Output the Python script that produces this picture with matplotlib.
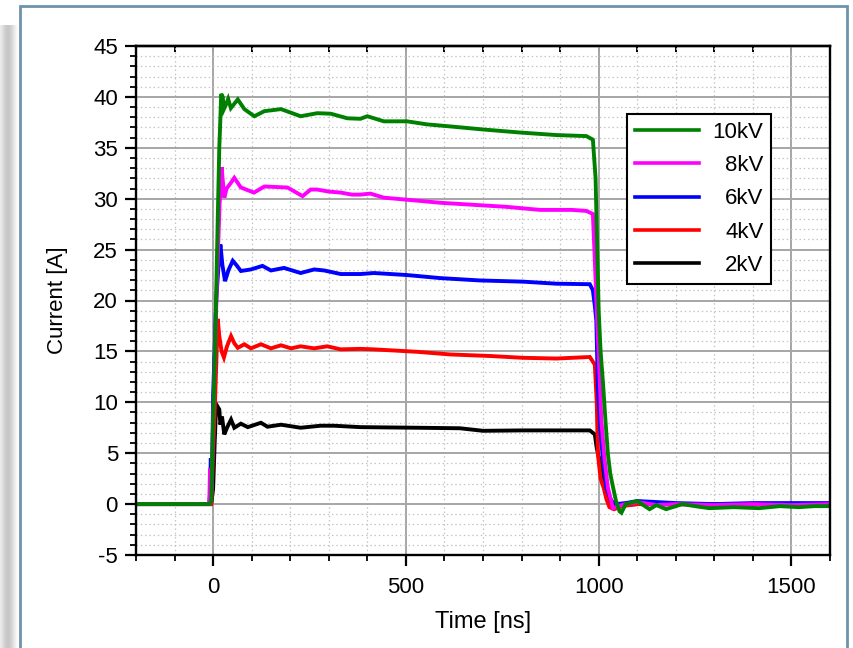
import matplotlib
matplotlib.use('Agg')
import matplotlib.pyplot as plt
import numpy as np
from matplotlib.ticker import MultipleLocator
from matplotlib.patches import Rectangle

plt.rcParams['font.family'] = ['Liberation Sans', 'DejaVu Sans']
plt.rcParams['axes.unicode_minus'] = False

# ---------------- data ----------------
labels = ['10kV', '8kV', '6kV', '4kV', '2kV']
colors = ['#008000', '#ff00ff', '#0000ff', '#ff0000', '#000000']

t_10 = [-200, -100, -10, -5, 0, 5, 12, 16, 18, 21, 25, 28, 34, 39, 46, 64, 81, 107, 133, 176,
        227, 270, 305, 348, 382, 400, 443, 503, 555, 615, 700, 796, 891, 968, 985, 992, 997, 1000,
        1005, 1011, 1018, 1024, 1030, 1037, 1045, 1054, 1059, 1070, 1100, 1132, 1150, 1175, 1217,
        1250, 1287, 1350, 1416, 1470, 1519, 1560, 1600]
I_10 = [0, 0, 0, 0.3, 8, 15, 28, 35, 37, 40.3, 40.0, 38.8, 39.3, 39.8, 38.9, 39.75, 38.8, 38.1, 38.6, 38.8,
        38.1, 38.4, 38.35, 37.9, 37.85, 38.1, 37.6, 37.6, 37.3, 37.1, 36.8, 36.5, 36.25, 36.15, 35.8, 32, 24, 19,
        15, 12, 8, 4.9, 3, 1.7, 0.3, -0.7, -0.85, 0.0, 0.3, -0.5, -0.1, -0.5, 0.0,
        -0.2, -0.4, -0.3, -0.4, -0.2, -0.3, -0.2, -0.2]

t_8 = [-200, -100, -10, -8, -5, 0, 10, 17, 20, 22, 29, 35, 45, 55, 72, 106, 133, 193, 232, 253,
       270, 300, 331, 360, 382, 408, 443, 503, 589, 675, 761, 848, 930, 968, 985, 990, 995, 1000,
       1007, 1015, 1024, 1037, 1050, 1070, 1100, 1150, 1200, 1300, 1400, 1500, 1600]
I_8 = [0, 0, 0, 3.5, 0.5, 8, 22, 29.6, 31.0, 33.1, 30.1, 31.0, 31.5, 32.05, 31.1, 30.6, 31.2, 31.1, 30.25, 30.9,
       30.9, 30.7, 30.6, 30.4, 30.4, 30.5, 30.1, 29.9, 29.6, 29.4, 29.2, 28.9, 28.9, 28.8, 28.5, 24, 19, 14.7,
       8.2, 4.5, 1.6, -0.4, -0.2, 0.0, 0.2, -0.1, 0.0, -0.1, 0.0, -0.1, 0.0]

t_6 = [-200, -150, -100, -10, -8, -6, -3, 0, 8, 15, 19, 24, 31, 40, 51, 60, 72, 98, 128, 150,
       184, 227, 262, 288, 331, 382, 417, 503, 589, 692, 804, 891, 977, 985, 990, 994, 998, 1005,
       1010, 1020, 1033, 1045, 1070, 1100, 1200, 1300, 1400, 1500, 1600]
I_6 = [0, 0, 0, 0, 1.0, 4.5, 2, 10.6, 20, 24, 25.5, 23.5, 21.9, 23.0, 23.9, 23.5, 22.9, 23.05, 23.4, 22.95,
       23.2, 22.7, 23.05, 22.95, 22.6, 22.6, 22.7, 22.5, 22.2, 21.97, 21.85, 21.65, 21.6, 21.0, 19.5, 18, 11.4, 7,
       4.9, 1.6, 0.3, 0.0, 0.1, 0.3, 0.1, 0.0, 0.1, 0.1, 0.1]

t_4 = [-200, -100, -5, 0, 5, 12, 16, 22, 28, 36, 46.5, 55, 64, 81, 98, 124, 150, 176, 202, 227,
       262, 296, 331, 382, 417, 529, 615, 718, 804, 891, 977, 990, 995, 998, 1005, 1013, 1020, 1028,
       1040, 1060, 1100, 1200, 1300, 1400, 1500, 1600]
I_4 = [0, 0, 0, 5, 10.1, 18.2, 16.5, 15.0, 14.4, 15.5, 16.5, 15.8, 15.35, 15.7, 15.3, 15.7, 15.3, 15.6, 15.3, 15.5,
       15.3, 15.5, 15.2, 15.25, 15.2, 14.96, 14.7, 14.55, 14.37, 14.3, 14.45, 13.7, 10, 4.9, 2.5, 1.6, 0.5, -0.3,
       -0.5, -0.2, 0.0, 0.0, -0.1, 0.0, 0.0, 0.0]

t_2 = [-200, -100, -5, 0, 4, 8, 16, 19, 23, 29, 36, 46.5, 55, 72, 90, 124, 141, 176, 227, 279,
       313, 382, 529, 640, 700, 804, 977, 990, 995, 1003, 1011, 1018, 1025, 1040, 1060, 1100, 1200, 1300,
       1400, 1500, 1600]
I_2 = [0, 0, 0, 1.5, 6, 9.8, 9.3, 7.8, 8.6, 6.85, 7.5, 8.3, 7.5, 7.9, 7.56, 7.99, 7.6, 7.8, 7.5, 7.7,
       7.7, 7.56, 7.5, 7.45, 7.2, 7.24, 7.24, 6.85, 5.5, 4.2, 2.3, 1.2, 0.3, 0.0, -0.1, 0.0, 0.0, 0.0,
       0.0, 0.0, 0.0]

x_ticks = [0, 500, 1000, 1500]
y_ticks = [-5, 0, 5, 10, 15, 20, 25, 30, 35, 40, 45]

series_t = [t_10, t_8, t_6, t_4, t_2]
series_I = [I_10, I_8, I_6, I_4, I_2]

# ---------------- figure ----------------
W, H = 854, 648
fig = plt.figure(figsize=(W / 100, H / 100), dpi=100)
fig.patch.set_facecolor('white')

# window-like frame and left shadow
shadow = fig.add_axes([0, 0, 19 / W, 1 - 25 / H])
grad = np.array([[0.92, 0.88, 0.84, 0.80, 0.78, 0.78, 0.80, 0.84, 0.88, 0.93, 0.97, 1.0]])
shadow.imshow(grad, cmap='gray', vmin=0, vmax=1, aspect='auto', interpolation='bicubic')
shadow.set_axis_off()
fig.add_artist(Rectangle((20 / W, -0.05), (847 - 20) / W, 1.05 - 6 / H, transform=fig.transFigure,
                         fill=False, edgecolor='#6d93ad', linewidth=2.0))

ax = fig.add_axes([136 / W, 1 - 555 / H, 694 / W, 509 / H])

handles = {}
for t, I, c, lab in reversed(list(zip(series_t, series_I, colors, labels))):
    h, = ax.plot(t, I, color=c, lw=2.8, solid_joinstyle='miter', label=lab)
    handles[lab] = h

ax.set_xlim(-200, 1600)
ax.set_ylim(-5, 45)
ax.set_xticks(x_ticks)
ax.set_yticks(y_ticks)
ax.xaxis.set_minor_locator(MultipleLocator(100))
ax.yaxis.set_minor_locator(MultipleLocator(1))

ax.set_axisbelow(True)
ax.grid(which='major', color='#a6a6a6', lw=1.4, ls='-')
ax.grid(which='minor', color='#c4c4c4', lw=0.9, ls=(0, (1.2, 2.2)))

for s in ax.spines.values():
    s.set_linewidth(1.7)
    s.set_color('black')

ax.tick_params(which='major', direction='out', length=8, width=1.6, labelsize=16, colors='black', pad=5)
ax.tick_params(which='minor', direction='out', length=4.5, width=1.3)
ax.tick_params(axis='x', which='both', top=False, pad=8)
ax.tick_params(axis='y', which='both', right=False)

sec = ax.secondary_xaxis('top')
sec.xaxis.set_major_locator(MultipleLocator(100))
sec.tick_params(which='major', direction='in', length=4, width=1.4, labeltop=False)
sec.spines['top'].set_linewidth(1.7)

ax.set_xlabel('Time [ns]', fontsize=17, labelpad=9)
ax.set_ylabel('Current [A]', fontsize=16, labelpad=18)

leg = ax.legend([handles[l] for l in labels], labels, loc='upper left',
                bbox_to_anchor=(0.7075, 0.866), borderaxespad=0, frameon=True, fancybox=False,
                edgecolor='black', framealpha=1, fontsize=16, handlelength=2.9,
                labelspacing=0.55, borderpad=0.35, handletextpad=0.6)
leg.get_frame().set_linewidth(1.5)
for lh in leg.get_lines():
    lh.set_linewidth(2.6)

fig.canvas.draw()
r = fig.canvas.get_renderer()
widths = [tx.get_window_extent(r).width for tx in leg.get_texts()]
wmax = max(widths)
for tx, w in zip(leg.get_texts(), widths):
    tx.set_position((wmax - w, 0))

fig.savefig('out.png', dpi=100, facecolor='white')
